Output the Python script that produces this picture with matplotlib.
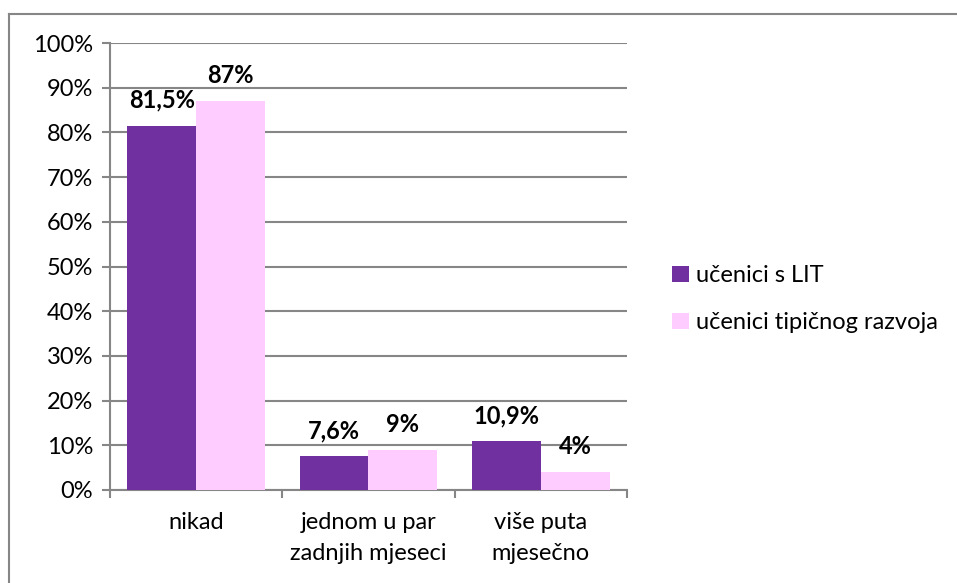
import matplotlib
matplotlib.use("Agg")
import matplotlib.pyplot as plt
import numpy as np
from matplotlib.lines import Line2D
from matplotlib.patches import Patch

plt.rcParams['font.family'] = ['Lato', 'DejaVu Sans']

categories = ["nikad", "jednom u par\nzadnjih mjeseci", "više puta\nmjesečno"]
series_names = ["učenici s LIT", "učenici tipičnog razvoja"]
lit_values = [81.5, 7.6, 10.9]
typ_values = [87, 9, 4]
lit_labels = ["81,5%", "7,6%", "10,9%"]
typ_labels = ["87%", "9%", "4%"]
yticks = [0, 10, 20, 30, 40, 50, 60, 70, 80, 90, 100]
ytick_labels = [f"{v}%" for v in yticks]

purple = "#7030A0"
pink = "#FFCCFF"
grid_c = "#868686"
FS = 17

fig = plt.figure(figsize=(9.57, 5.83), dpi=100)
ax = fig.add_axes([110/957, 1-490/583, (627-110)/957, (490-43)/583])

x = np.arange(len(categories))
w = 0.4
b1 = ax.bar(x - w/2, lit_values, w, color=purple, zorder=3)
b2 = ax.bar(x + w/2, typ_values, w, color=pink, zorder=3)

for bars, labs in ((b1, lit_labels), (b2, typ_labels)):
    for rect, lab in zip(bars, labs):
        ax.annotate(lab, (rect.get_x() + rect.get_width()/2, rect.get_height()),
                    xytext=(0, 10), textcoords="offset points", ha="center", va="bottom",
                    fontsize=FS, fontweight="bold", color="#000000")

ax.set_xlim(-0.5, 2.5)
ax.set_ylim(0, 100)
ax.set_yticks(yticks)
ax.set_yticklabels(ytick_labels, fontsize=FS)
ax.yaxis.grid(True, color=grid_c, linewidth=1.5, zorder=0)
ax.set_axisbelow(True)

ax.set_xticks(x)
ax.set_xticklabels(categories, fontsize=FS, linespacing=1.55)
ax.tick_params(axis='x', which='major', length=0, pad=16)
ax.set_xticks([-0.5, 0.5, 1.5, 2.5], minor=True)
ax.tick_params(axis='x', which='minor', length=6, width=1.5, color=grid_c)
ax.tick_params(axis='y', length=6, width=1.5, color=grid_c, pad=6)

for s in ['top', 'right']:
    ax.spines[s].set_visible(False)
for s in ['left', 'bottom']:
    ax.spines[s].set_color(grid_c)
    ax.spines[s].set_linewidth(1.5)

handles = [Patch(facecolor=purple), Patch(facecolor=pink)]
fig.legend(handles, series_names, loc="center left", bbox_to_anchor=(0.68, 0.487),
           frameon=False, fontsize=FS, handlelength=0.7, handleheight=0.7,
           handletextpad=0.3, labelspacing=1.1)

# outer chart border
fig.add_artist(Line2D([8.5/957, 8.5/957], [0, 1-13.5/583], transform=fig.transFigure,
                      color=grid_c, linewidth=1.5))
fig.add_artist(Line2D([8.5/957, 1], [1-13.5/583, 1-13.5/583], transform=fig.transFigure,
                      color=grid_c, linewidth=1.5))

fig.savefig("out.png", dpi=100, facecolor="white")
